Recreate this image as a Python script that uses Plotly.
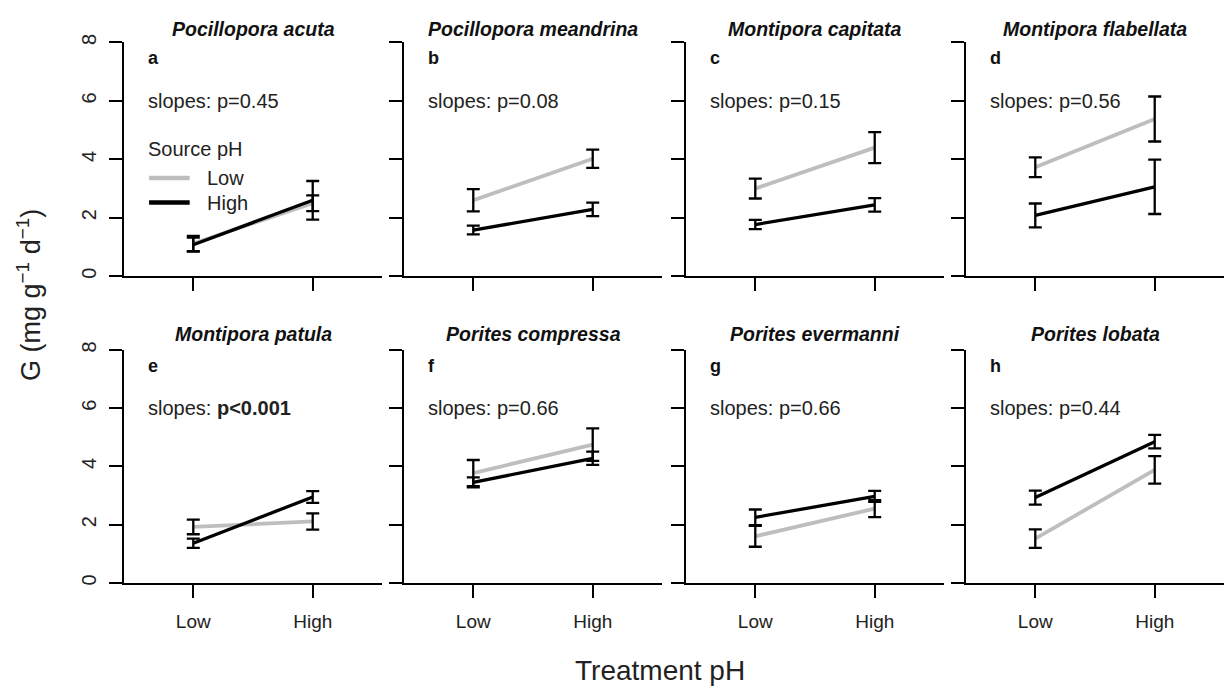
import plotly.graph_objects as go

# ---------------- data ----------------
species = ["Pocillopora acuta", "Pocillopora meandrina", "Montipora capitata", "Montipora flabellata",
           "Montipora patula", "Porites compressa", "Porites evermanni", "Porites lobata"]
letters = ["a", "b", "c", "d", "e", "f", "g", "h"]
pvals = ["p=0.45", "p=0.08", "p=0.15", "p=0.56", "<b>p&lt;0.001</b>", "p=0.66", "p=0.66", "p=0.44"]
treatment = ["Low", "High"]
treat_x = [1, 2]

# Source pH Low (grey)
low_mean = [[1.12, 2.50], [2.60, 4.02], [3.00, 4.40], [3.73, 5.38],
            [1.92, 2.11], [3.77, 4.75], [1.60, 2.55], [1.52, 3.88]]
low_se = [[0.26, 0.27], [0.38, 0.31], [0.34, 0.53], [0.34, 0.77],
          [0.25, 0.28], [0.45, 0.56], [0.36, 0.29], [0.32, 0.47]]
# Source pH High (black)
high_mean = [[1.08, 2.60], [1.58, 2.29], [1.77, 2.44], [2.08, 3.06],
             [1.36, 2.95], [3.45, 4.28], [2.25, 2.97], [2.93, 4.85]]
high_se = [[0.24, 0.66], [0.15, 0.23], [0.16, 0.23], [0.41, 0.93],
           [0.16, 0.20], [0.17, 0.23], [0.27, 0.19], [0.24, 0.23]]

y_ticks = [0, 2, 4, 6, 8]

# ---------------- style ----------------
W, H = 1228, 691
FONT = "Liberation Sans, Arial, sans-serif"
GREY = "#BEBEBE"
col_left = [124, 404, 686, 966]
col_w = 258
row_px = [(34, 272), (347, 584)]

fig = go.Figure()
layout = dict(width=W, height=H, margin=dict(l=0, r=0, t=0, b=0),
              plot_bgcolor="white", paper_bgcolor="white", showlegend=False,
              font=dict(family=FONT, size=19, color="#222"))
annotations = []
shapes = []

for i in range(8):
    r, c = divmod(i, 4)
    n = i + 1
    xa = "x" if n == 1 else f"x{n}"
    ya = "y" if n == 1 else f"y{n}"
    xkey = "xaxis" if n == 1 else f"xaxis{n}"
    ykey = "yaxis" if n == 1 else f"yaxis{n}"
    x0 = col_left[c] / W
    x1 = (col_left[c] + col_w) / W
    top, bot = row_px[r]
    y0 = 1 - bot / H
    y1 = 1 - top / H

    layout[xkey] = dict(domain=[x0, x1], anchor=ya, range=[0.42, 2.58],
                        tickvals=treat_x, ticktext=treatment, showticklabels=(r == 1),
                        ticks="outside", ticklen=13, tickwidth=2, tickcolor="black",
                        showline=True, linewidth=2, linecolor="black",
                        showgrid=False, zeroline=False, ticklabelstandoff=7,
                        tickfont=dict(size=19, color="#222", family=FONT))
    layout[ykey] = dict(domain=[y0, y1], anchor=xa, range=[0, 8],
                        tickvals=y_ticks, tickangle=-90, showticklabels=(c == 0),
                        ticks="outside", ticklen=13, tickwidth=2, tickcolor="black",
                        showline=True, linewidth=2, linecolor="black",
                        showgrid=False, zeroline=False, ticklabelstandoff=5,
                        tickfont=dict(size=20, color="#222", family=FONT))

    # lines
    fig.add_trace(go.Scatter(x=treat_x, y=low_mean[i], mode="lines", xaxis=xa, yaxis=ya,
                             line=dict(color=GREY, width=3.8), hoverinfo="skip"))
    fig.add_trace(go.Scatter(x=treat_x, y=high_mean[i], mode="lines", xaxis=xa, yaxis=ya,
                             line=dict(color="black", width=3.3), hoverinfo="skip"))
    # error bars (black for both series)
    for m, s in ((low_mean[i], low_se[i]), (high_mean[i], high_se[i])):
        fig.add_trace(go.Scatter(x=treat_x, y=m, mode="markers", xaxis=xa, yaxis=ya,
                                 marker=dict(size=1, color="rgba(0,0,0,0)"),
                                 error_y=dict(type="data", array=s, visible=True,
                                              color="black", thickness=2.3, width=6.5),
                                 hoverinfo="skip"))

    # title
    annotations.append(dict(text=f"<b><i>{species[i]}</i></b>", xref="paper", yref="paper",
                            x=(x0 + x1) / 2, y=1 - (20 if r == 0 else 331) / H,
                            xanchor="center", yanchor="middle", showarrow=False,
                            font=dict(size=19.5, color="#111", family=FONT)))
    # panel letter
    annotations.append(dict(text=f"<b>{letters[i]}</b>", xref=xa, yref=ya, x=0.6, y=7.45,
                            xanchor="left", yanchor="middle", showarrow=False,
                            font=dict(size=18, color="#111", family=FONT)))
    # slopes text
    annotations.append(dict(text=f"slopes: {pvals[i]}", xref=xa, yref=ya, x=0.6, y=6.0,
                            xanchor="left", yanchor="middle", showarrow=False,
                            font=dict(size=20, color="#222", family=FONT)))

# legend in panel a
leg_x0, leg_x1, leg_tx = 0.63, 0.97, 1.10
leg_title_y = 4.37
leg_rows = [("Low", GREY, 3.36), ("High", "black", 2.52)]
annotations.append(dict(text="Source pH", xref="x", yref="y", x=0.6, y=leg_title_y,
                        xanchor="left", yanchor="middle", showarrow=False,
                        font=dict(size=20, color="#222", family=FONT)))
for lab, colr, ly in leg_rows:
    shapes.append(dict(type="line", xref="x", yref="y", x0=leg_x0, x1=leg_x1, y0=ly, y1=ly,
                       line=dict(color=colr, width=4.5)))
    annotations.append(dict(text=lab, xref="x", yref="y", x=leg_tx, y=ly,
                            xanchor="left", yanchor="middle", showarrow=False,
                            font=dict(size=20, color="#222", family=FONT)))

# axis titles
annotations.append(dict(text="G (mg g<sup>\u22121</sup> d<sup>\u22121</sup>)", xref="paper", yref="paper",
                        x=29 / W, y=1 - 291 / H, textangle=-90, xanchor="center", yanchor="middle",
                        showarrow=False, font=dict(size=27, color="#222", family=FONT)))
annotations.append(dict(text="Treatment pH", xref="paper", yref="paper",
                        x=660 / W, y=1 - 673 / H, xanchor="center", yanchor="middle",
                        showarrow=False, font=dict(size=28, color="#222", family=FONT)))

layout["annotations"] = annotations
layout["shapes"] = shapes
fig.update_layout(**layout)
fig.write_html("out.html", config={"displayModeBar": False},
               post_script="document.body.style.margin='0';document.body.style.overflow='hidden';")
